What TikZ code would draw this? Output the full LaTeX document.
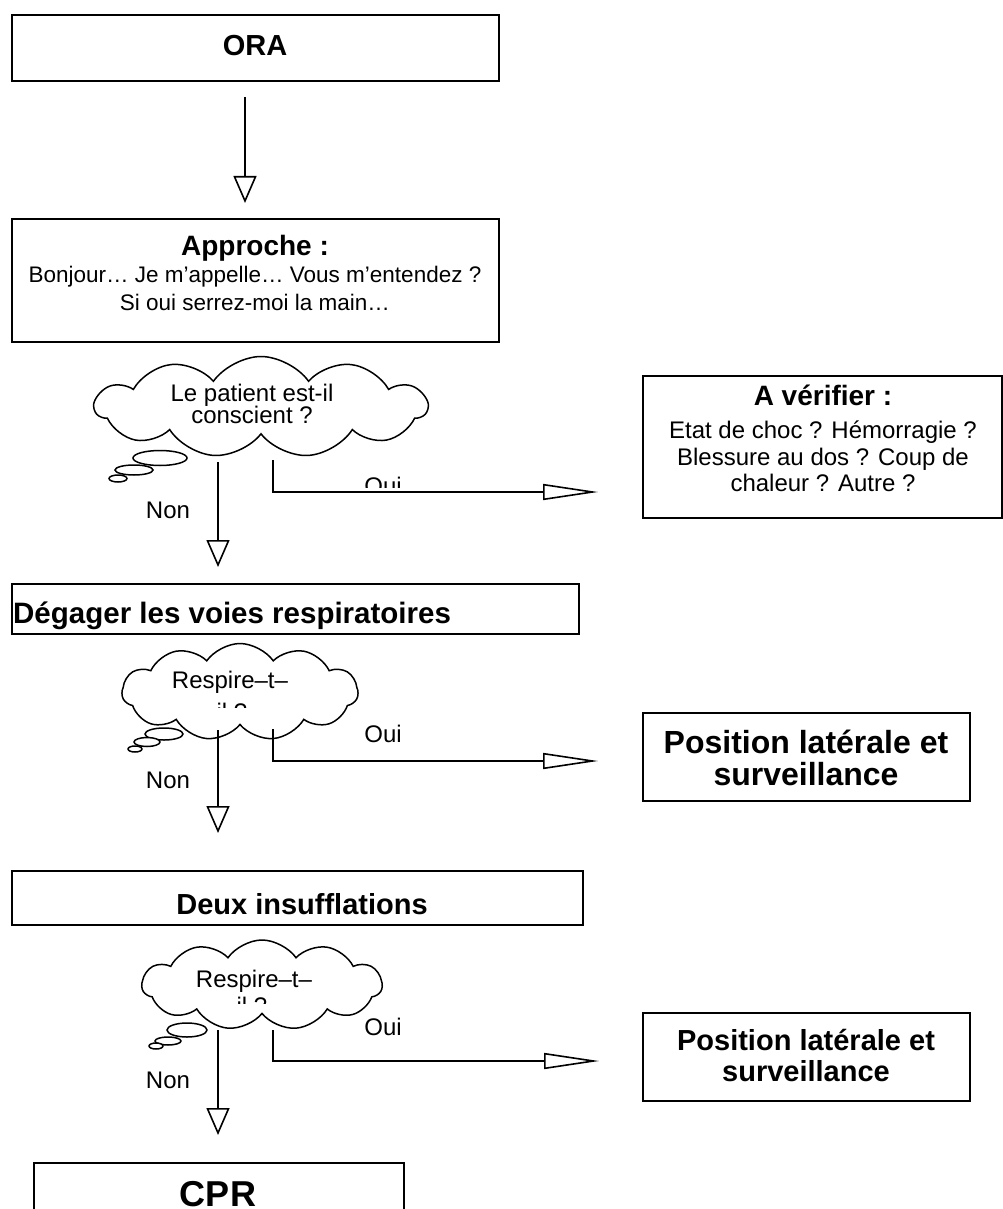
\documentclass[tikz,border=0pt]{standalone}
\usepackage{fontspec}
\setmainfont{Liberation Sans}
\usetikzlibrary{shapes.symbols,shapes.geometric,arrows.meta}
\begin{document}
\begin{tikzpicture}[x=1pt,y=-1pt,
  box/.style={draw, line width=1.8pt, rectangle, inner sep=0pt, anchor=north west},
  conn/.style={line width=1.6pt},
  varr/.style={conn, -{Triangle[open,length=27pt,width=23pt]}},
  harr/.style={conn, -{Triangle[open,length=55pt,width=16pt]}},
  thought/.style={draw, line width=1.5pt, cloud, cloud puffs=11, cloud puff arc=110, cloud ignores aspect, inner sep=0pt, fill=white},
  bubble/.style={draw, line width=1.5pt, fill=white, ellipse, inner sep=0pt},
  ttl/.style={font=\fontsize{28}{32}\selectfont\bfseries, inner sep=0pt, anchor=base},
  txt/.style={font=\fontsize{24}{28}\selectfont, inner sep=0pt, anchor=base},
  atxt/.style={font=\fontsize{22.5}{26}\selectfont, inner sep=0pt, anchor=base},
  btxt/.style={font=\fontsize{24}{28}\selectfont, inner sep=0pt, anchor=base},
]
\useasboundingbox[fill=white] (0,0) rectangle (1003,1209);

% ---- boxes
\node[box, minimum width=487pt, minimum height=66pt] (ora) at (11,14) {};
\node[ttl, font=\fontsize{29}{33}\selectfont\bfseries] (oraT) at (255,56) {ORA};

\node[box, minimum width=487pt, minimum height=123pt] (appr) at (11,218) {};
\node[ttl] (apprT) at (255,255) {Approche :};
\node[atxt] (apprL1) at (255,282) {Bonjour… Je m’appelle… Vous m’entendez ?};
\node[atxt] (apprL2) at (255,310) {Si oui serrez-moi la main…};

\node[box, minimum width=359pt, minimum height=142pt] (verif) at (642,375) {};
\node[ttl] (verifT) at (823,405) {A vérifier :};
\node[btxt] (verifL1) at (823,438) {Etat de choc ? Hémorragie ?};
\node[btxt] (verifL2) at (823,465) {Blessure au dos ? Coup de};
\node[btxt] (verifL3) at (823,491) {chaleur ? Autre ?};

\node[box, minimum width=567pt, minimum height=50pt] (deg) at (11,583) {};
\node[ttl, font=\fontsize{29.5}{33}\selectfont\bfseries, anchor=base west] (degT) at (13,623) {Dégager les voies respiratoires};

\node[box, minimum width=327pt, minimum height=88pt] (pos1) at (642,712) {};
\node[ttl, font=\fontsize{32}{36}\selectfont\bfseries] (pos1L1) at (806,753) {Position latérale et};
\node[ttl, font=\fontsize{32}{36}\selectfont\bfseries] (pos1L2) at (806,785) {surveillance};

\node[box, minimum width=571pt, minimum height=54pt] (deux) at (11,870) {};
\node[ttl, font=\fontsize{29}{33}\selectfont\bfseries] (deuxT) at (302,914) {Deux insufflations};

\node[box, minimum width=327pt, minimum height=88pt] (pos2) at (642,1012) {};
\node[ttl, font=\fontsize{29}{33}\selectfont\bfseries] (pos2L1) at (806,1050) {Position latérale et};
\node[ttl, font=\fontsize{29}{33}\selectfont\bfseries] (pos2L2) at (806,1081) {surveillance};

\node[box, minimum width=370pt, minimum height=70pt] (cpr) at (33,1162) {};
\node[ttl, font=\fontsize{36}{40}\selectfont\bfseries] (cprT) at (218,1206) {CPR};

% ---- arrow ORA -> Approche
\coordinate (a0s) at (245,97);
\coordinate (a0e) at (245,203);
\draw[varr] (a0s) -- (a0e);

% ---- cloud 1
\node[bubble, minimum width=54pt, minimum height=15pt] (b1a) at (160,458) {};
\node[bubble, minimum width=38pt, minimum height=10pt] (b1b) at (134,470) {};
\node[bubble, minimum width=18pt, minimum height=7pt] (b1c) at (118,478.5) {};
\node[thought, minimum width=332pt, minimum height=101pt] (q1) at (261,407) {};
\node[txt] (q1L1) at (252,401) {Le patient est-il};
\node[txt] (q1L2) at (252,423) {conscient ?};

\coordinate (n1s) at (218,462);
\coordinate (n1e) at (218,567);
\draw[varr] (n1s) -- (n1e);
\node[txt] (non1) at (168,518) {Non};
\coordinate (o1s) at (273,460);
\coordinate (o1k) at (273,492);
\coordinate (o1e) at (598,492);
\draw[harr] (o1s) -- (o1k) -- (o1e);
\begin{scope}
  \clip (330,460) rectangle (440,487);
  \node[txt] (oui1) at (383,494) {Oui};
\end{scope}

% ---- cloud 2
\node[bubble, minimum width=38pt, minimum height=12pt] (b2a) at (164,734) {};
\node[bubble, minimum width=26pt, minimum height=9pt] (b2b) at (147,742) {};
\node[bubble, minimum width=14pt, minimum height=6pt] (b2c) at (135,749) {};
\node[thought, minimum width=236pt, minimum height=97pt] (q2) at (240,692) {};
\node[txt] (q2L1) at (230,688) {Respire–t–};
\begin{scope}
  \clip (180,690) rectangle (290,707);
  \node[txt] (q2L2) at (232,720) {il ?};
\end{scope}

\coordinate (n2s) at (218,730);
\coordinate (n2e) at (218,833);
\draw[varr] (n2s) -- (n2e);
\node[txt] (non2) at (168,788) {Non};
\coordinate (o2s) at (273,729);
\coordinate (o2k) at (273,761);
\coordinate (o2e) at (598,761);
\draw[harr] (o2s) -- (o2k) -- (o2e);
\node[txt] (oui2) at (383,742) {Oui};

% ---- cloud 3
\node[bubble, minimum width=40pt, minimum height=14pt] (b3a) at (187,1030) {};
\node[bubble, minimum width=26pt, minimum height=8pt] (b3b) at (168,1041) {};
\node[bubble, minimum width=14pt, minimum height=6pt] (b3c) at (156,1046) {};
\node[thought, minimum width=240pt, minimum height=90pt] (q3) at (262,985) {};
\node[txt] (q3L1) at (254,987) {Respire–t–};
\begin{scope}
  \clip (200,990) rectangle (310,1003);
  \node[txt] (q3L2) at (252,1014) {il ?};
\end{scope}

\coordinate (n3s) at (218,1030);
\coordinate (n3e) at (218,1135);
\draw[varr] (n3s) -- (n3e);
\node[txt] (non3) at (168,1088) {Non};
\coordinate (o3s) at (273,1030);
\coordinate (o3k) at (273,1061);
\coordinate (o3e) at (599,1061);
\draw[harr] (o3s) -- (o3k) -- (o3e);
\node[txt] (oui3) at (383,1035) {Oui};
\end{tikzpicture}
\end{document}
